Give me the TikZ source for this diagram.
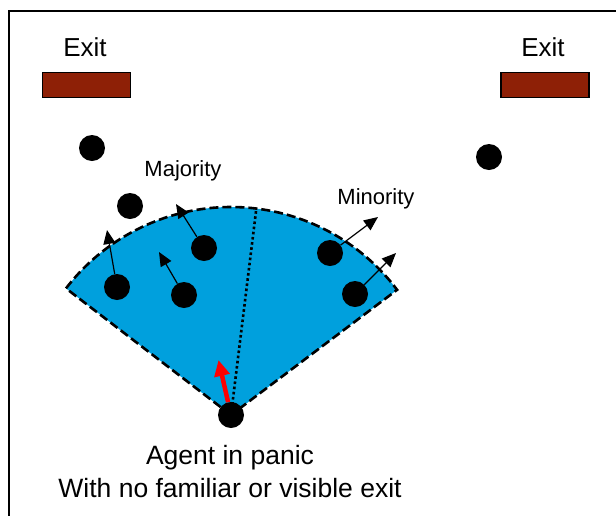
\documentclass[tikz,border=0pt]{standalone}
\usepackage{fontspec}
\setmainfont{Liberation Sans}
\usetikzlibrary{arrows.meta,calc}
\definecolor{zone}{RGB}{0,160,221}
\definecolor{exitred}{RGB}{142,32,6}
\begin{document}
\begin{tikzpicture}[x=1pt,y=1pt,
  person/.style={circle,fill=black,minimum size=26pt,inner sep=0pt},
  exitbox/.style={draw=black,line width=1.6pt,fill=exitred,minimum width=88pt,minimum height=25pt,inner sep=0pt},
  heading/.style={font=\fontsize{26}{30}\selectfont,inner sep=0pt},
  tag/.style={font=\fontsize{22}{26}\selectfont,inner sep=0pt},
  move/.style={line width=1.2pt,-{Triangle[length=14pt,width=12pt]}},
  panic/.style={draw=red,line width=4.5pt,-{Triangle[length=16pt,width=15pt]},red}
]
\useasboundingbox (0,0) rectangle (616,-515);
\begin{scope}
\clip (0,0) rectangle (616,-515);
\draw[line width=2pt] (9,-11) rectangle (640,-540);
\end{scope}

% exits
\node[heading] (exitL) at (85,-47) {Exit};
\node[heading] (exitR) at (543,-47) {Exit};
\node[exitbox] (doorL) at (86.5,-85) {};
\node[exitbox] (doorR) at (545,-85) {};

% field of view of the agent
\coordinate (apex) at (231,-415);
\fill[zone] (apex) -- ++(142.5:208) arc[start angle=142.5,end angle=37,radius=208] -- cycle;
\draw[line width=2.6pt,dash pattern=on 9pt off 4pt] (apex) -- ++(142.5:208) arc[start angle=142.5,end angle=37,radius=208] -- cycle;
\coordinate (split) at ($(apex)+(83:208)$);
\draw[line width=2.6pt,dash pattern=on 2.6pt off 2.6pt] (apex) -- (split);

% people
\node[person] (p1) at (92,-148) {};
\node[person] (p2) at (130,-206) {};
\node[person] (p3) at (489,-157) {};
\node[person] (p4) at (117,-287) {};
\node[person] (p5) at (204,-248) {};
\node[person] (p6) at (184,-295) {};
\node[person] (p7) at (330,-253) {};
\node[person] (p8) at (355,-294) {};
\node[person] (agent) at (231,-415) {};

% headings of the people in view
\coordinate (t4) at (107,-230);
\coordinate (t5) at (176,-204);
\coordinate (t6) at (159,-252);
\coordinate (t7) at (378,-217);
\coordinate (t8) at (396,-253);
\coordinate (tA) at (218.5,-360);
\draw[move] (p4) -- (t4);
\draw[move] (p5) -- (t5);
\draw[move] (p6) -- (t6);
\draw[move] (p7) -- (t7);
\draw[move] (p8) -- (t8);
\draw[panic] (agent) -- (tA);

% labels
\node[tag] (maj) at (183,-171) {Majority};
\node[tag] (min) at (376,-199) {Minority};
\node[font=\fontsize{26.5}{33}\selectfont,align=center,inner sep=0pt] (cap) at (230,-471.5) {Agent in panic\\With no familiar or visible exit};
\end{tikzpicture}
\end{document}
